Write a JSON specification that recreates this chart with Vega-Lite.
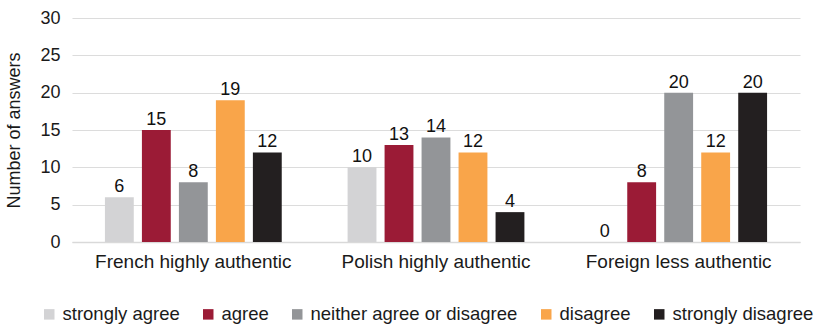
{
  "$schema": "https://vega.github.io/schema/vega-lite/v6.json",
  "autosize": "none",
  "width": 728,
  "height": 224,
  "padding": {"left": 72, "top": 18, "right": 18, "bottom": 82},
  "config": {
    "font": "Liberation Sans",
    "view": {"stroke": null},
    "axis": {"labelFont": "Liberation Sans", "titleFont": "Liberation Sans"}
  },
  "data": {
    "values": [
      {"group": "French highly authentic", "answer": "strongly agree", "count": 6},
      {"group": "French highly authentic", "answer": "agree", "count": 15},
      {"group": "French highly authentic", "answer": "neither agree or disagree", "count": 8},
      {"group": "French highly authentic", "answer": "disagree", "count": 19},
      {"group": "French highly authentic", "answer": "strongly disagree", "count": 12},
      {"group": "Polish highly authentic", "answer": "strongly agree", "count": 10},
      {"group": "Polish highly authentic", "answer": "agree", "count": 13},
      {"group": "Polish highly authentic", "answer": "neither agree or disagree", "count": 14},
      {"group": "Polish highly authentic", "answer": "disagree", "count": 12},
      {"group": "Polish highly authentic", "answer": "strongly disagree", "count": 4},
      {"group": "Foreign less authentic", "answer": "strongly agree", "count": 0},
      {"group": "Foreign less authentic", "answer": "agree", "count": 8},
      {"group": "Foreign less authentic", "answer": "neither agree or disagree", "count": 20},
      {"group": "Foreign less authentic", "answer": "disagree", "count": 12},
      {"group": "Foreign less authentic", "answer": "strongly disagree", "count": 20}
    ]
  },
  "encoding": {
    "x": {
      "field": "group", "type": "nominal", "sort": null,
      "scale": {"paddingInner": 0, "paddingOuter": 0},
      "axis": {"title": null, "labelAngle": 0, "labelFontSize": 19, "labelColor": "#1a1a1a", "labelPadding": 10, "ticks": false, "domainColor": "#d9d9d9", "domainWidth": 1.5, "labelLimit": 400}
    },
    "xOffset": {
      "field": "answer", "type": "nominal",
      "sort": ["strongly agree", "agree", "neither agree or disagree", "disagree", "strongly disagree"],
      "scale": {"paddingInner": 0.22, "paddingOuter": 0.89}
    },
    "y": {
      "field": "count", "type": "quantitative",
      "scale": {"domain": [0, 30]},
      "axis": {"title": "Number of answers", "titleFontSize": 18, "titleFontWeight": "normal", "titleColor": "#1a1a1a", "titlePadding": 16, "labelFontSize": 18, "labelColor": "#1a1a1a", "labelPadding": 12, "values": [0, 5, 10, 15, 20, 25, 30], "ticks": false, "domain": false, "gridColor": "#dcdcdc", "gridWidth": 1.2}
    }
  },
  "layer": [
    {
      "mark": {"type": "bar"},
      "encoding": {
        "color": {
          "field": "answer", "type": "nominal",
          "sort": ["strongly agree", "agree", "neither agree or disagree", "disagree", "strongly disagree"],
          "scale": {
            "domain": ["strongly agree", "agree", "neither agree or disagree", "disagree", "strongly disagree"],
            "range": ["#d3d3d5", "#9b1b36", "#939598", "#f9a54a", "#231f20"]
          },
          "legend": {
            "title": null, "orient": "none", "direction": "horizontal",
            "legendX": -32, "legendY": 287,
            "symbolType": "square", "symbolSize": 110, "symbolStrokeWidth": 0,
            "labelFontSize": 18.5, "labelColor": "#1a1a1a", "labelOffset": 4, "labelLimit": 400,
            "columnPadding": 19
          }
        }
      }
    },
    {
      "mark": {"type": "text", "baseline": "bottom", "dy": -1, "fontSize": 18, "color": "#111"},
      "encoding": {"text": {"field": "count", "type": "quantitative"}}
    }
  ]
}
